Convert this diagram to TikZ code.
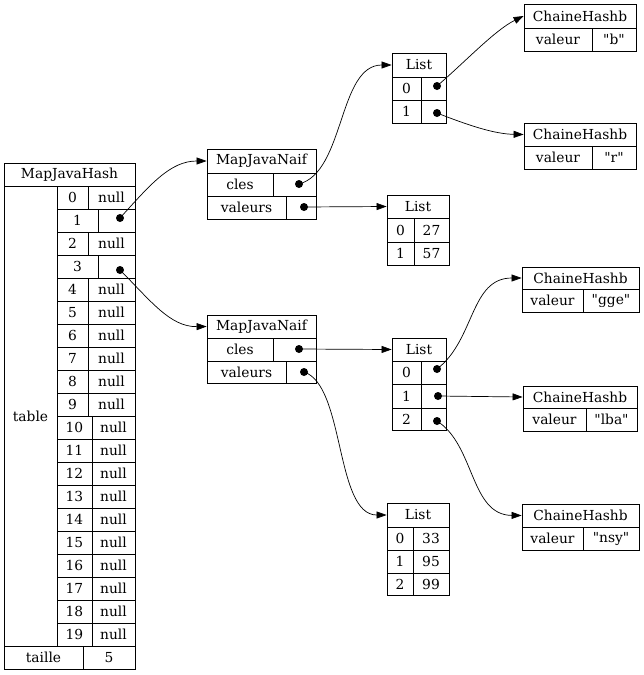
\documentclass[tikz,border=0pt]{standalone}
\usepackage{fontspec}
\setmainfont{DejaVu Serif}[Ligatures=TeXOff]
\usetikzlibrary{arrows.meta}

% une case : nom, x1, y1, x2, y2, texte
\newcommand{\cell}[6]{%
  \pgfmathsetmacro\cw{#4-#2}\pgfmathsetmacro\ch{#5-#3}%
  \node[cellbox, minimum width=\cw pt, minimum height=\ch pt] (#1) at ({(#2+#4)/2},{(#3+#5)/2}) {#6};}

\begin{document}
\begin{tikzpicture}[x=1pt,y=-1pt,
  cellbox/.style={draw, line width=0.8pt, inner sep=0pt, font=\fontsize{13.8}{16}\selectfont},
  ptr/.style={circle, fill, inner sep=0pt, minimum size=8pt},
  lien/.style={-{Triangle[length=10pt,width=7pt]}, line width=0.7pt}]

\useasboundingbox (0,0) rectangle (643,675);

% MapJavaHash
\cell{mjh}{4}{163}{135}{186}{MapJavaHash}
\cell{tab}{4}{186}{57}{646}{table}
\foreach \i in {0,2,4,5,6,7,8,9}{
  \pgfmathsetmacro\yt{186+23*\i}\pgfmathsetmacro\yb{\yt+23}
  \cell{i\i}{57}{\yt}{88}{\yb}{\i}
  \cell{n\i}{88}{\yt}{135}{\yb}{null}}
\foreach \i in {10,...,19}{
  \pgfmathsetmacro\yt{186+23*\i}\pgfmathsetmacro\yb{\yt+23}
  \cell{i\i}{57}{\yt}{92}{\yb}{\i}
  \cell{n\i}{92}{\yt}{135}{\yb}{null}}
\cell{i1}{57}{209}{98}{232}{1}
\cell{n1}{98}{209}{135}{232}{}
\cell{i3}{57}{255}{98}{278}{3}
\cell{n3}{98}{255}{135}{278}{}
\cell{ta}{4}{646}{83}{669}{taille}
\cell{tv}{83}{646}{135}{669}{5}
\node[ptr] (d1) at (120,218) {};
\node[ptr] (d3) at (120,270) {};

% MapJavaNaif 1
\cell{na1}{207}{149}{316}{173}{MapJavaNaif}
\cell{na1c}{207}{173}{273}{196}{cles}
\cell{na1cp}{273}{173}{316}{196}{}
\cell{na1v}{207}{196}{286}{219}{valeurs}
\cell{na1vp}{286}{196}{316}{219}{}
\node[ptr] (dc1) at (299,184) {};
\node[ptr] (dv1) at (304,207) {};

% MapJavaNaif 2
\cell{na2}{207}{315}{316}{338}{MapJavaNaif}
\cell{na2c}{207}{338}{273}{361}{cles}
\cell{na2cp}{273}{338}{316}{361}{}
\cell{na2v}{207}{361}{286}{383}{valeurs}
\cell{na2vp}{286}{361}{316}{383}{}
\node[ptr] (dc2) at (299,349) {};
\node[ptr] (dv2) at (304,372) {};

% List cles 1
\cell{la}{392}{53}{446}{77}{List}
\cell{la0}{392}{77}{421}{100}{0}
\cell{la0p}{421}{77}{446}{100}{}
\cell{la1}{392}{100}{421}{123}{1}
\cell{la1p}{421}{100}{446}{123}{}
\node[ptr] (da0) at (437,86) {};
\node[ptr] (da1) at (437,113) {};

% List valeurs 1
\cell{lb}{387}{195}{449}{218}{List}
\cell{lb0}{387}{218}{414}{242}{0}
\cell{lb0v}{414}{218}{449}{242}{27}
\cell{lb1}{387}{242}{414}{265}{1}
\cell{lb1v}{414}{242}{449}{265}{57}

% List cles 2
\cell{lc}{392}{338}{446}{361}{List}
\cell{lc0}{392}{361}{421}{384}{0}
\cell{lc0p}{421}{361}{446}{384}{}
\cell{lc1}{392}{384}{421}{408}{1}
\cell{lc1p}{421}{384}{446}{408}{}
\cell{lc2}{392}{408}{421}{430}{2}
\cell{lc2p}{421}{408}{446}{430}{}
\node[ptr] (dc0) at (437,369) {};
\node[ptr] (dcc1) at (438,396) {};
\node[ptr] (dcc2) at (437,421) {};

% List valeurs 2
\cell{ld}{387}{503}{449}{527}{List}
\cell{ld0}{387}{527}{413}{550}{0}
\cell{ld0v}{413}{527}{449}{550}{33}
\cell{ld1}{387}{550}{413}{573}{1}
\cell{ld1v}{413}{550}{449}{573}{95}
\cell{ld2}{387}{573}{413}{595}{2}
\cell{ld2v}{413}{573}{449}{595}{99}

% ChaineHashb
\cell{cb}{524}{4}{636}{28}{ChaineHashb}
\cell{cbk}{524}{28}{592}{51}{valeur}
\cell{cbv}{592}{28}{636}{51}{"b"}
\cell{cr}{524}{123}{636}{146}{ChaineHashb}
\cell{crk}{524}{146}{592}{169}{valeur}
\cell{crv}{592}{146}{636}{169}{"r"}
\cell{cg}{522}{267}{639}{289}{ChaineHashb}
\cell{cgk}{522}{289}{583}{312}{valeur}
\cell{cgv}{583}{289}{639}{312}{"gge"}
\cell{cl}{523}{386}{637}{408}{ChaineHashb}
\cell{clk}{523}{408}{586}{431}{valeur}
\cell{clv}{586}{408}{637}{431}{"lba"}
\cell{cn}{522}{504}{639}{527}{ChaineHashb}
\cell{cnk}{522}{527}{583}{550}{valeur}
\cell{cnv}{583}{527}{639}{550}{"nsy"}

% Liens
\draw[lien] (d1.center) .. controls (150,185) and (170,161) .. (na1.west);
\draw[lien] (d3.center) .. controls (150,300) and (170,327) .. (na2.west);
\draw[lien] (dc1.center) .. controls (345,172) and (338,65) .. (la.west);
\draw[lien] (dv1.center) -- (lb.west);
\draw[lien] (dc2.center) -- (lc.west);
\draw[lien] (dv2.center) .. controls (345,385) and (335,515) .. (ld.west);
\draw[lien] (da0.center) .. controls (465,62) and (495,30) .. (cb.west);
\draw[lien] (da1.center) .. controls (470,126) and (495,134) .. (cr.west);
\draw[lien] (dc0.center) .. controls (475,340) and (470,278) .. (cg.west);
\draw[lien] (dcc1.center) -- (cl.west);
\draw[lien] (dcc2.center) .. controls (475,445) and (470,515) .. (cn.west);

\end{tikzpicture}
\end{document}
